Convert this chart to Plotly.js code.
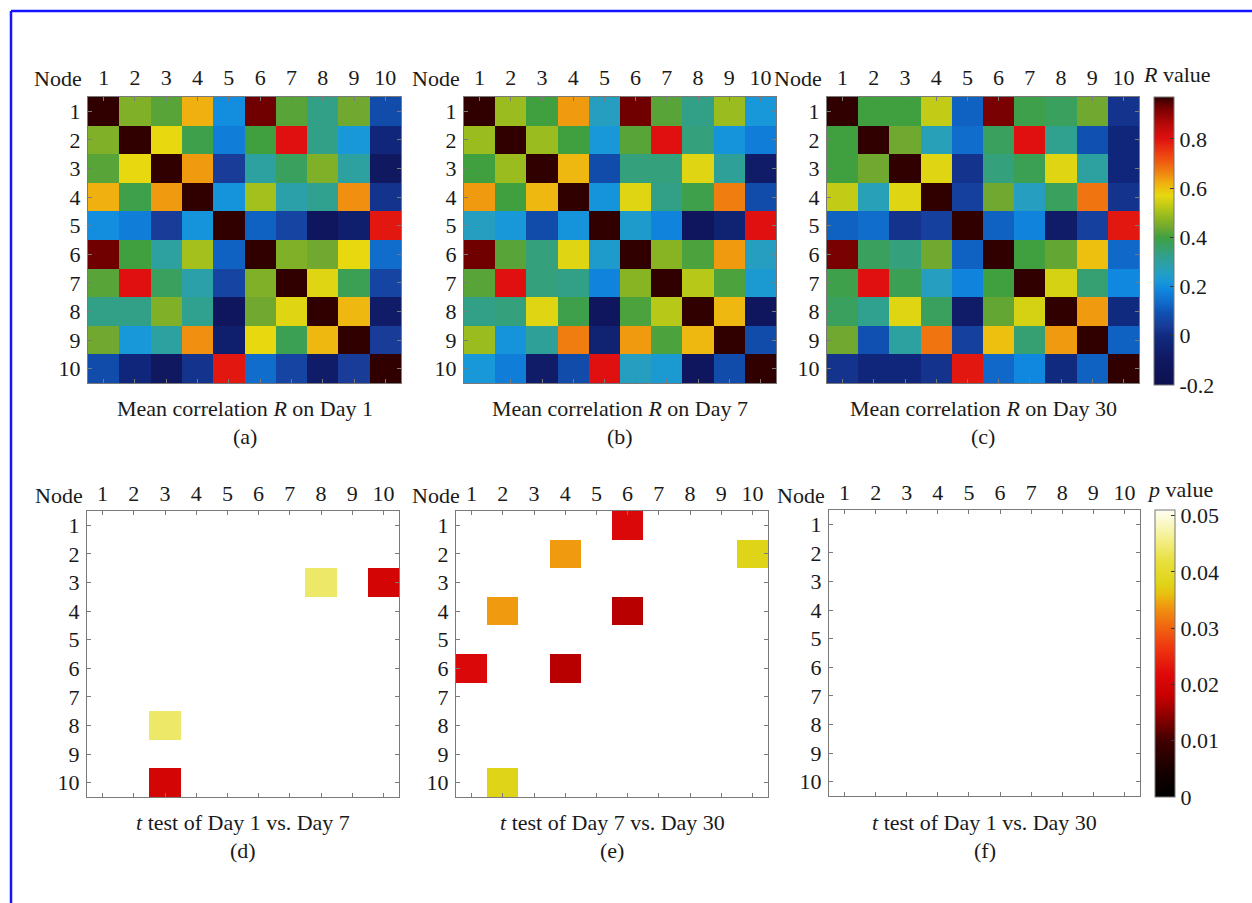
<!DOCTYPE html>
<html>
<head>
<meta charset="utf-8">
<script src="https://cdn.plot.ly/plotly-3.0.1.min.js"></script>
<style>html,body{margin:0;padding:0;background:#fff;}#chart{width:1252px;height:903px;}</style>
</head>
<body>
<div id="chart"></div>
<script>
// ---------- data ----------
var nodes = [1, 2, 3, 4, 5, 6, 7, 8, 9, 10];
var nodeLabels = ['1', '2', '3', '4', '5', '6', '7', '8', '9', '10'];

// Mean correlation R, Day 1 (rows = node 1..10)
var day1 = [
  [1.00, 0.46, 0.42, 0.62, 0.20, 0.93, 0.42, 0.33, 0.44, 0.08],
  [0.46, 1.00, 0.57, 0.39, 0.17, 0.40, 0.80, 0.33, 0.22, -0.02],
  [0.42, 0.57, 1.00, 0.64, 0.04, 0.30, 0.37, 0.46, 0.30, -0.10],
  [0.62, 0.39, 0.64, 1.00, 0.21, 0.50, 0.29, 0.32, 0.65, 0.02],
  [0.20, 0.17, 0.04, 0.21, 1.00, 0.12, 0.06, -0.12, -0.06, 0.79],
  [0.93, 0.40, 0.30, 0.50, 0.12, 1.00, 0.46, 0.44, 0.57, 0.14],
  [0.42, 0.80, 0.37, 0.29, 0.06, 0.46, 1.00, 0.56, 0.38, 0.06],
  [0.33, 0.33, 0.46, 0.32, -0.12, 0.44, 0.56, 1.00, 0.61, -0.08],
  [0.44, 0.22, 0.30, 0.65, -0.06, 0.57, 0.38, 0.61, 1.00, 0.04],
  [0.08, -0.02, -0.10, 0.02, 0.79, 0.14, 0.06, -0.08, 0.04, 1.00]
];
// Day 7
var day7 = [
  [1.00, 0.49, 0.40, 0.64, 0.26, 0.93, 0.42, 0.33, 0.49, 0.22],
  [0.49, 1.00, 0.49, 0.40, 0.22, 0.42, 0.80, 0.34, 0.21, 0.17],
  [0.40, 0.49, 1.00, 0.61, 0.08, 0.34, 0.34, 0.56, 0.31, -0.08],
  [0.64, 0.40, 0.61, 1.00, 0.21, 0.56, 0.33, 0.39, 0.67, 0.08],
  [0.26, 0.22, 0.08, 0.21, 1.00, 0.24, 0.18, -0.12, -0.04, 0.80],
  [0.93, 0.42, 0.34, 0.56, 0.24, 1.00, 0.47, 0.41, 0.64, 0.26],
  [0.42, 0.80, 0.34, 0.33, 0.18, 0.47, 1.00, 0.52, 0.41, 0.23],
  [0.33, 0.34, 0.56, 0.39, -0.12, 0.41, 0.52, 1.00, 0.61, -0.12],
  [0.49, 0.21, 0.31, 0.67, -0.04, 0.64, 0.41, 0.61, 1.00, 0.08],
  [0.22, 0.17, -0.08, 0.08, 0.80, 0.26, 0.23, -0.12, 0.08, 1.00]
];
// Day 30
var day30 = [
  [1.00, 0.40, 0.40, 0.53, 0.12, 0.92, 0.39, 0.37, 0.44, 0.02],
  [0.40, 1.00, 0.44, 0.27, 0.14, 0.37, 0.80, 0.32, 0.09, -0.02],
  [0.40, 0.44, 1.00, 0.56, 0.02, 0.34, 0.38, 0.56, 0.30, -0.02],
  [0.53, 0.27, 0.56, 1.00, 0.05, 0.44, 0.26, 0.37, 0.68, 0.02],
  [0.12, 0.14, 0.02, 0.05, 1.00, 0.12, 0.18, -0.08, 0.05, 0.79],
  [0.92, 0.37, 0.34, 0.44, 0.12, 1.00, 0.40, 0.43, 0.60, 0.13],
  [0.39, 0.80, 0.38, 0.26, 0.18, 0.40, 1.00, 0.55, 0.35, 0.19],
  [0.37, 0.32, 0.56, 0.37, -0.08, 0.43, 0.55, 1.00, 0.64, 0.00],
  [0.44, 0.09, 0.30, 0.68, 0.05, 0.60, 0.35, 0.64, 1.00, 0.12],
  [0.02, -0.02, -0.02, 0.02, 0.79, 0.13, 0.19, 0.00, 0.12, 1.00]
];

// significant p values: [row node, column node, p]
var pDay1vs7 = [[3, 8, 0.044], [3, 10, 0.020], [8, 3, 0.044], [10, 3, 0.020]];
var pDay7vs30 = [[1, 6, 0.021], [2, 4, 0.034], [2, 10, 0.038], [4, 2, 0.034],
                 [4, 6, 0.017], [6, 1, 0.021], [6, 4, 0.017], [10, 2, 0.038]];
var pDay1vs30 = [];

var rTicks = [-0.2, 0, 0.2, 0.4, 0.6, 0.8];
var rTickText = ['-0.2', '0', '0.2', '0.4', '0.6', '0.8'];
var pTicks = [0, 0.01, 0.02, 0.03, 0.04, 0.05];
var pTickText = ['0', '0.01', '0.02', '0.03', '0.04', '0.05'];

var topCaptions = ['Mean correlation <i>R</i> on Day 1', 'Mean correlation <i>R</i> on Day 7', 'Mean correlation <i>R</i> on Day 30'];
var bottomCaptions = ['<i>t</i> test of Day 1 vs. Day 7', '<i>t</i> test of Day 7 vs. Day 30', '<i>t</i> test of Day 1 vs. Day 30'];
var panelLetters = ['(a)', '(b)', '(c)', '(d)', '(e)', '(f)'];

// ---------- helpers ----------
var W = 1252, H = 903;
function px(x) { return x / W; }
function py(y) { return 1 - y / H; }
function sparseToMatrix(list) {
  var m = [];
  for (var i = 0; i < 10; i++) { var r = []; for (var j = 0; j < 10; j++) r.push(null); m.push(r); }
  list.forEach(function (e) { m[e[0] - 1][e[1] - 1] = e[2]; });
  return m;
}

var FONT = 'Liberation Serif, Times New Roman, serif';
var TXT = '#1a1a1a';
var FS = 22;

var rScale = [
  [0.000, '#0c1050'], [0.085, '#101860'], [0.171, '#102a80'], [0.205, '#183c98'],
  [0.248, '#1050b0'], [0.282, '#1068c8'], [0.333, '#1088e0'], [0.359, '#1898d8'],
  [0.402, '#28a0b8'], [0.444, '#30a090'], [0.479, '#38a068'], [0.513, '#40a040'],
  [0.547, '#70a830'], [0.581, '#90b820'], [0.615, '#b8c818'], [0.658, '#e8d810'],
  [0.701, '#f0b010'], [0.726, '#f09010'], [0.786, '#f05010'], [0.855, '#e01010'],
  [0.906, '#b80808'], [0.966, '#700000'], [1.000, '#300000']
];
var pScale = [
  [0.000, '#000000'], [0.078, '#120000'], [0.196, '#400000'], [0.284, '#900000'],
  [0.353, '#c80000'], [0.431, '#e00a0a'], [0.529, '#f03c10'], [0.608, '#f07010'],
  [0.667, '#f09a10'], [0.706, '#e8c010'], [0.745, '#e0d418'], [0.824, '#e8e040'],
  [0.902, '#f4f090'], [1.000, '#fffff4']
];

// panel rectangles in pixels [left, right, top, bottom]
var boxes = [
  [88, 401, 97, 383], [464, 776, 97, 383], [827, 1139, 97, 383],
  [87, 399, 511, 797], [456, 768, 511, 797], [829, 1140, 510, 796]
];

var rMats = [day1, day7, day30];
var pMats = [sparseToMatrix(pDay1vs7), sparseToMatrix(pDay7vs30), sparseToMatrix(pDay1vs30)];

var traces = [];
var layout = {
  width: W, height: H,
  margin: { l: 0, r: 0, t: 0, b: 0 },
  paper_bgcolor: '#ffffff', plot_bgcolor: '#ffffff',
  showlegend: false,
  font: { family: FONT, color: TXT, size: FS },
  annotations: [], shapes: []
};

for (var k = 0; k < 6; k++) {
  var b = boxes[k];
  var sfx = k === 0 ? '' : String(k + 1);
  var isTop = k < 3;
  var tr = {
    type: 'heatmap',
    x: nodes, y: nodes,
    z: isTop ? rMats[k] : pMats[k - 3],
    xaxis: 'x' + sfx, yaxis: 'y' + sfx,
    colorscale: isTop ? rScale : pScale,
    zmin: isTop ? -0.2 : 0, zmax: isTop ? 0.97 : 0.051,
    showscale: false,
    hoverongaps: false
  };
  if (k === 2) {
    tr.showscale = true;
    tr.colorbar = {
      x: px(1154), xanchor: 'left', xpad: 0, ypad: 0,
      y: py(97), yanchor: 'top', len: 288, lenmode: 'pixels',
      thickness: 20, thicknessmode: 'pixels',
      outlinecolor: '#777', outlinewidth: 1, borderwidth: 0,
      tickmode: 'array', tickvals: rTicks, ticktext: rTickText,
      ticks: 'inside', ticklen: 4, tickcolor: '#333',
      tickfont: { family: FONT, size: FS, color: TXT }
    };
  }
  if (k === 4) {
    tr.showscale = true;
    tr.colorbar = {
      x: px(1155), xanchor: 'left', xpad: 0, ypad: 0,
      y: py(510), yanchor: 'top', len: 287, lenmode: 'pixels',
      thickness: 20, thicknessmode: 'pixels',
      outlinecolor: '#777', outlinewidth: 1, borderwidth: 0,
      tickmode: 'array', tickvals: pTicks, ticktext: pTickText,
      ticks: 'inside', ticklen: 4, tickcolor: '#333',
      tickfont: { family: FONT, size: FS, color: TXT }
    };
  }
  traces.push(tr);

  var axCommon = {
    showgrid: false, zeroline: false, showline: true, linecolor: '#7a7a7a', linewidth: 1,
    mirror: 'ticks', ticks: 'inside', ticklen: 4, tickcolor: '#7a7a7a',
    tickmode: 'array', tickvals: nodes, ticktext: nodeLabels,
    tickfont: { family: FONT, size: FS, color: TXT }, fixedrange: true
  };
  layout['xaxis' + sfx] = Object.assign({}, axCommon, {
    domain: [px(b[0]), px(b[1])], anchor: 'y' + sfx, side: 'top', range: [0.5, 10.5],
    ticklabelstandoff: isTop ? 2 : 0
  });
  layout['yaxis' + sfx] = Object.assign({}, axCommon, {
    domain: [py(b[3]), py(b[2])], anchor: 'x' + sfx, range: [10.5, 0.5],
    ticklabelstandoff: 2
  });
}

// "Node" labels (right edge px, centre y px)
var nodePos = [[84, 78], [462, 78], [824, 78], [85, 495], [462, 495], [827, 495]];
nodePos.forEach(function (p) {
  layout.annotations.push({ xref: 'paper', yref: 'paper', x: px(p[0]), y: py(p[1]),
    xanchor: 'right', yanchor: 'middle', text: 'Node', showarrow: false,
    font: { family: FONT, size: FS, color: TXT } });
});

// captions and panel letters
for (var c = 0; c < 6; c++) {
  var bb = boxes[c];
  var cx = (bb[0] + bb[1]) / 2;
  var capY = c < 3 ? 408 : 822;
  var letY = c < 3 ? 436 : 850;
  layout.annotations.push({ xref: 'paper', yref: 'paper', x: px(cx), y: py(capY),
    xanchor: 'center', yanchor: 'middle', showarrow: false,
    text: c < 3 ? topCaptions[c] : bottomCaptions[c - 3],
    font: { family: FONT, size: FS, color: TXT } });
  layout.annotations.push({ xref: 'paper', yref: 'paper', x: px(cx), y: py(letY),
    xanchor: 'center', yanchor: 'middle', showarrow: false, text: panelLetters[c],
    font: { family: FONT, size: FS, color: TXT } });
}

// colorbar titles
layout.annotations.push({ xref: 'paper', yref: 'paper', x: px(1177), y: py(75),
  xanchor: 'center', yanchor: 'middle', showarrow: false, text: '<i>R</i> value',
  font: { family: FONT, size: FS, color: TXT } });
layout.annotations.push({ xref: 'paper', yref: 'paper', x: px(1180), y: py(490),
  xanchor: 'center', yanchor: 'middle', showarrow: false, text: '<i>p</i> value',
  font: { family: FONT, size: FS, color: TXT } });

// blue frame
layout.shapes.push({ type: 'line', xref: 'paper', yref: 'paper', x0: px(11), x1: 1, y0: py(11), y1: py(11),
  line: { color: '#1414ff', width: 2.5 } });
layout.shapes.push({ type: 'line', xref: 'paper', yref: 'paper', x0: px(11), x1: px(11), y0: py(11), y1: 0,
  line: { color: '#1414ff', width: 2.5 } });

Plotly.newPlot('chart', traces, layout, { displayModeBar: false, staticPlot: true });
</script>
</body>
</html>
